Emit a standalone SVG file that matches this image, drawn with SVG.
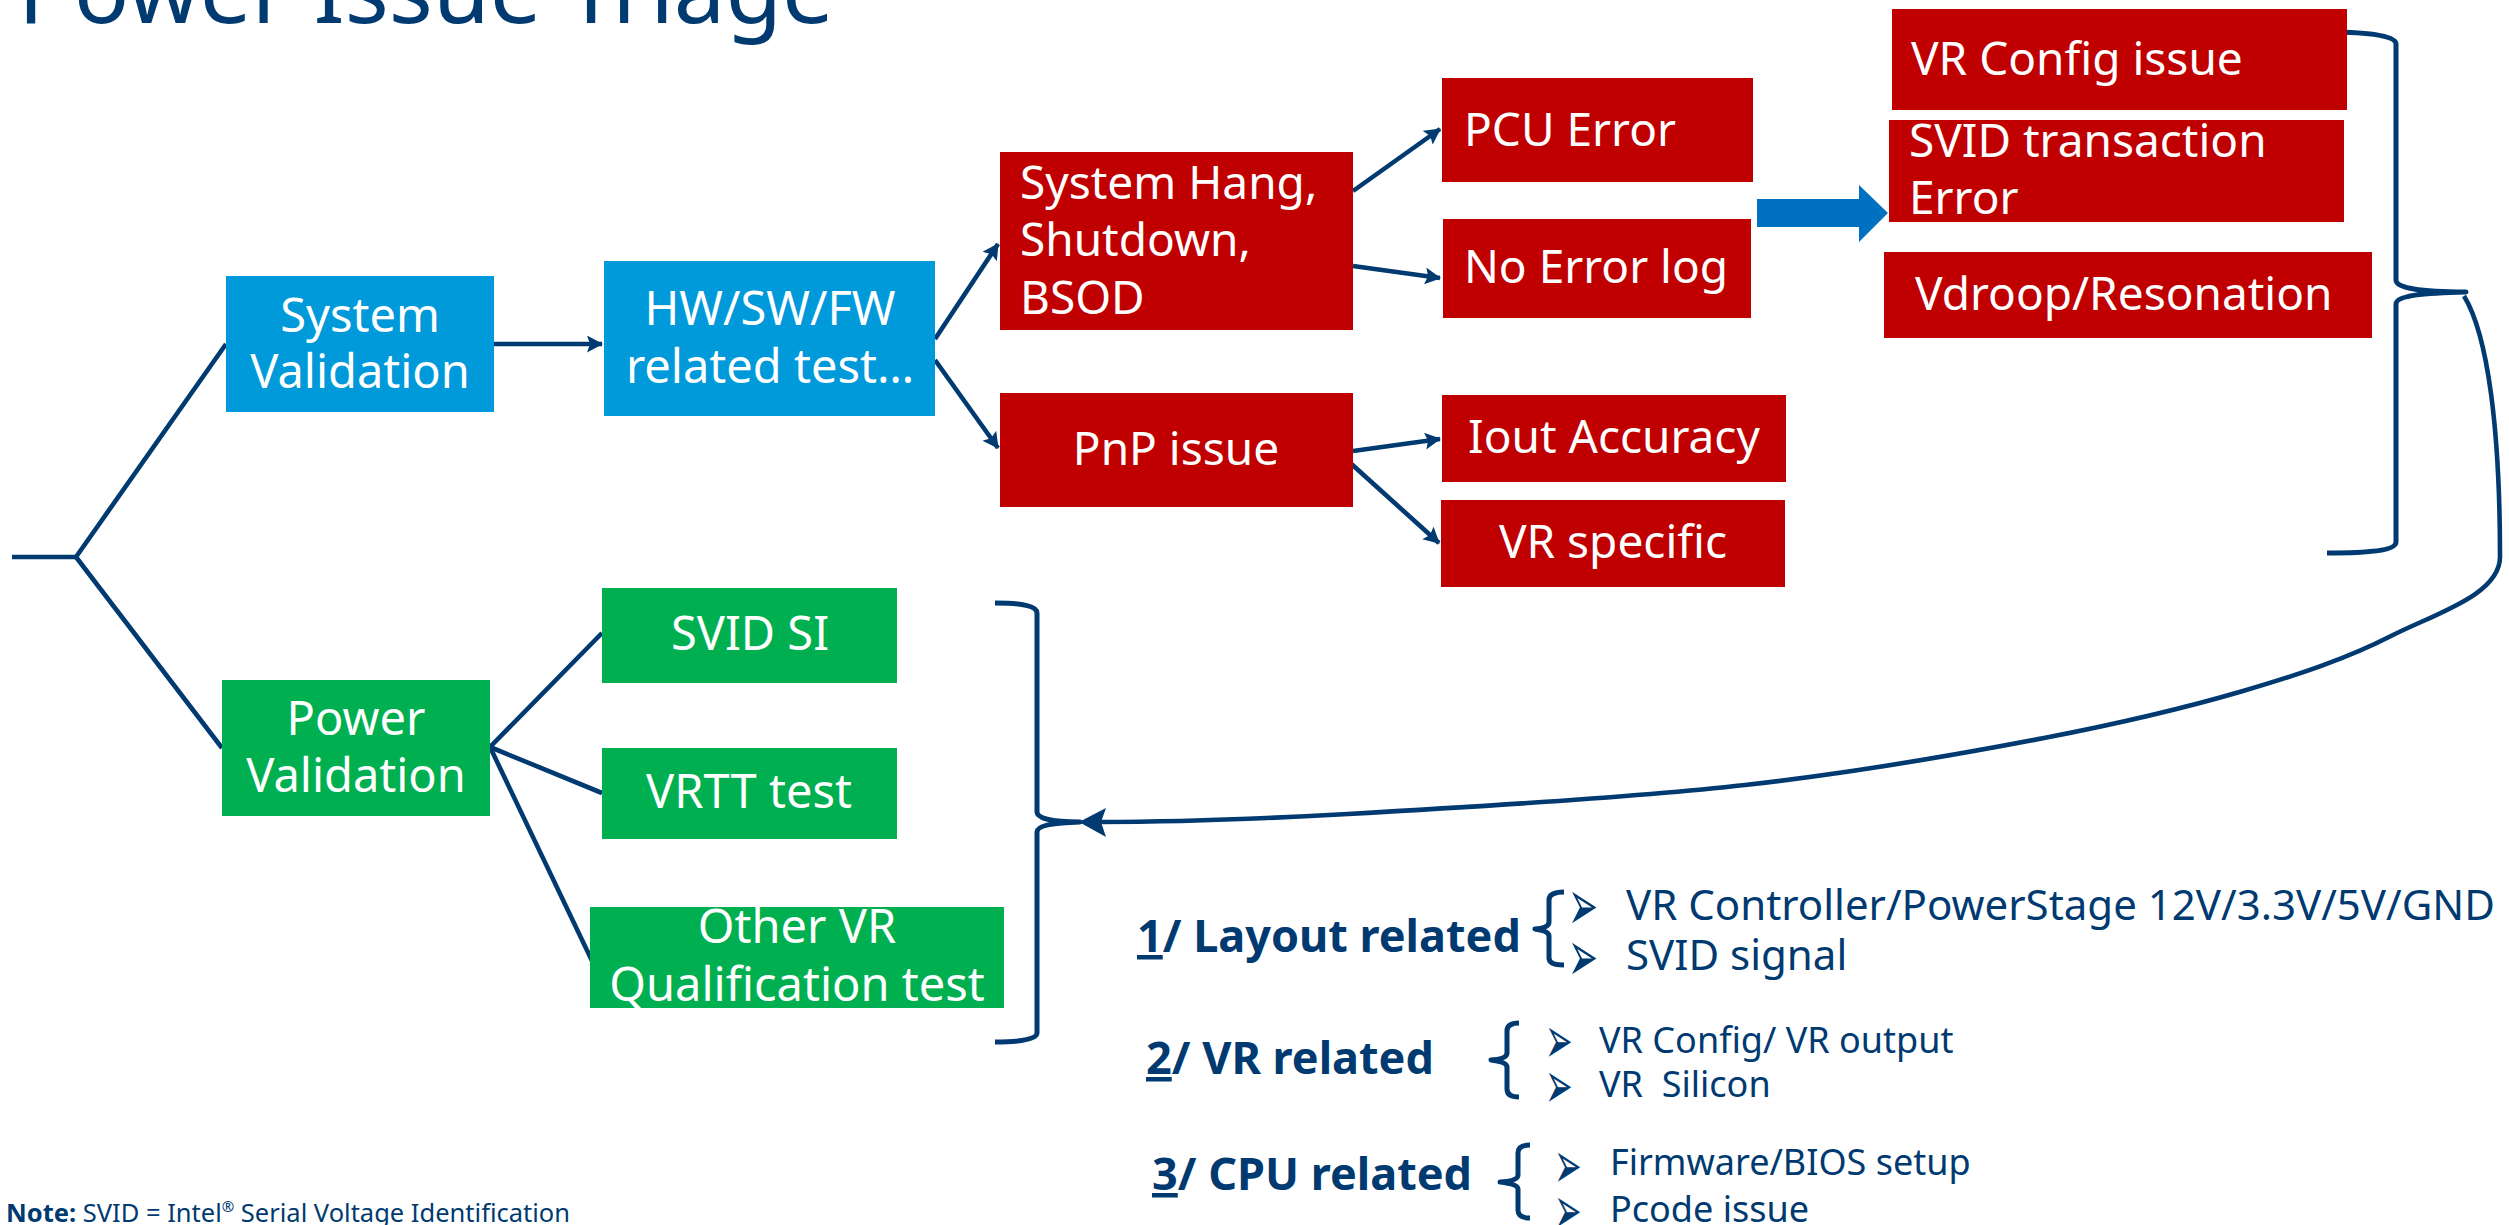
<svg xmlns="http://www.w3.org/2000/svg" width="2509" height="1225" viewBox="0 0 2509 1225">
  <style>
    .box-blue { fill: #0099DA; }
    .box-green { fill: #00B050; }
    .box-red { fill: #C00000; }
    .lbl { font-family: "Noto Sans", "Open Sans", sans-serif; fill: #FFFFFF; }
    .lbl48 { font-size: 47px; }
    .lbl46 { font-size: 46px; }
    .conn { fill: none; stroke: #003A70; stroke-width: 4.6; stroke-linecap: butt; stroke-linejoin: round; }
    .brace { fill: none; stroke: #003A70; stroke-width: 5; stroke-linejoin: round; stroke-linecap: butt; }
    .navy { font-family: "Noto Sans", "Open Sans", sans-serif; fill: #003A70; }
    .head { font-weight: bold; font-size: 45px; }
    .bullet { font-family: "DejaVu Sans", sans-serif; fill: #003A70; }
  </style>
  <defs>
    <marker id="arrow" markerUnits="userSpaceOnUse" markerWidth="17" markerHeight="17" refX="15" refY="8.5" orient="auto">
      <path d="M0,0 L16,8.5 L0,17 L3,8.5 z" fill="#003A70"/>
    </marker>
  </defs>

  <rect width="2509" height="1225" fill="#FFFFFF"/>

  <!-- title -->
  <text id="title" class="navy" x="18" y="23" font-size="92">Power Issue Triage</text>

  <!-- connectors -->
  <g id="connectors">
    <path class="conn" d="M12,557 H76" stroke-width="6"/>
    <path class="conn" d="M226,344 L76,557 L222,748"/>
    <path class="conn" d="M494,344 H602" marker-end="url(#arrow)"/>
    <path class="conn" d="M935,339 L998,244" marker-end="url(#arrow)"/>
    <path class="conn" d="M935,360 L998,448" marker-end="url(#arrow)"/>
    <path class="conn" d="M1353,191 L1440,129" marker-end="url(#arrow)"/>
    <path class="conn" d="M1353,266 L1440,278" marker-end="url(#arrow)"/>
    <path class="conn" d="M1353,451 L1440,439" marker-end="url(#arrow)"/>
    <path class="conn" d="M1347,460 L1439,543" marker-end="url(#arrow)"/>
    <path class="conn" d="M602,633 L490,747 L602,793"/>
    <path class="conn" d="M490,747 L594,965"/>

    <!-- brace grouping the red findings -->
    <path class="brace" d="M2327,32 C2372,32 2396,36 2396,44 V280 C2396,288 2420,292 2466,292 C2420,293 2396,296 2396,304 V542 C2396,550 2372,553 2327,553"/>
    <!-- brace grouping the green tests -->
    <path class="brace" d="M995,603 C1022,603 1037,606 1037,613 V812 C1037,818 1050,822 1080,822 C1050,823 1037,826 1037,832 V1033 C1037,1039 1022,1042 995,1042"/>

    <!-- feedback curve back to power validation -->
    <path class="conn" stroke-width="6" d="M2464,296 C2488,335 2500,430 2500,557 C2500,595 2434,614 2391,636 C2348,658 2301,674 2243,691 C2185,708 2127,722 2044,738 C1961,754 1861,772 1745,785 C1629,798 1455,808 1348,814 C1241,820 1150,822 1100,822"/>
    <path d="M1079,822 L1106,808 L1101,822 L1106,837 z" fill="#003A70"/>

    <!-- block arrow into the VR findings -->
    <path d="M1757,199 H1859 V185 L1888,213 L1859,242 V227 H1757 z" fill="#0070C0"/>
  </g>

  <!-- nodes -->
  <g id="system-validation">
    <rect class="box-blue" x="226" y="276" width="268" height="136"/>
    <text class="lbl lbl48" x="360" y="332" text-anchor="middle">System</text>
    <text class="lbl lbl48" x="360" y="388" text-anchor="middle">Validation</text>
  </g>
  <g id="hw-sw-fw">
    <rect class="box-blue" x="604" y="261" width="331" height="155"/>
    <text class="lbl lbl48" x="770" y="325" text-anchor="middle">HW/SW/FW</text>
    <text class="lbl lbl48" x="770" y="383" text-anchor="middle">related test…</text>
  </g>
  <g id="system-hang">
    <rect class="box-red" x="1000" y="152" width="353" height="178"/>
    <text class="lbl lbl46" x="1020" y="199">System Hang,</text>
    <text class="lbl lbl46" x="1020" y="256">Shutdown,</text>
    <text class="lbl lbl46" x="1020" y="314">BSOD</text>
  </g>
  <g id="pnp-issue">
    <rect class="box-red" x="1000" y="393" width="353" height="114"/>
    <text class="lbl lbl46" x="1176" y="465" text-anchor="middle">PnP issue</text>
  </g>
  <g id="pcu-error">
    <rect class="box-red" x="1442" y="78" width="311" height="104"/>
    <text class="lbl lbl46" x="1464" y="146">PCU Error</text>
  </g>
  <g id="no-error-log">
    <rect class="box-red" x="1443" y="219" width="308" height="99"/>
    <text class="lbl lbl46" x="1596" y="283" text-anchor="middle">No Error log</text>
  </g>
  <g id="iout-accuracy">
    <rect class="box-red" x="1442" y="395" width="344" height="87"/>
    <text class="lbl lbl46" x="1614" y="453" text-anchor="middle">Iout Accuracy</text>
  </g>
  <g id="vr-specific">
    <rect class="box-red" x="1441" y="500" width="344" height="87"/>
    <text class="lbl lbl46" x="1613" y="558" text-anchor="middle">VR specific</text>
  </g>
  <g id="vr-config-issue">
    <rect class="box-red" x="1892" y="9" width="455" height="101"/>
    <text class="lbl lbl46" x="1911" y="75">VR Config issue</text>
  </g>
  <g id="svid-transaction-error">
    <rect class="box-red" x="1889" y="120" width="455" height="102"/>
    <text class="lbl lbl46" x="1909" y="157">SVID transaction</text>
    <text class="lbl lbl46" x="1909" y="214">Error</text>
  </g>
  <g id="vdroop-resonation">
    <rect class="box-red" x="1884" y="252" width="488" height="86"/>
    <text class="lbl lbl46" x="1915" y="310">Vdroop/Resonation</text>
  </g>
  <g id="power-validation">
    <rect class="box-green" x="222" y="680" width="268" height="136"/>
    <text class="lbl lbl48" x="356" y="735" text-anchor="middle">Power</text>
    <text class="lbl lbl48" x="356" y="792" text-anchor="middle">Validation</text>
  </g>
  <g id="svid-si">
    <rect class="box-green" x="602" y="588" width="295" height="95"/>
    <text class="lbl lbl48" x="750" y="650" text-anchor="middle">SVID SI</text>
  </g>
  <g id="vrtt-test">
    <rect class="box-green" x="602" y="748" width="295" height="91"/>
    <text class="lbl lbl48" x="749" y="808" text-anchor="middle">VRTT test</text>
  </g>
  <g id="other-vr-test">
    <rect class="box-green" x="590" y="907" width="414" height="101"/>
    <text class="lbl lbl48" x="797" y="943" text-anchor="middle">Other VR</text>
    <text class="lbl lbl48" x="797" y="1001" text-anchor="middle">Qualification test</text>
  </g>

  <!-- root-cause categories -->
  <g id="layout-related">
    <text class="navy head" x="1137" y="952"><tspan text-decoration="underline">1</tspan>/ Layout related</text>
    <path class="brace" stroke-width="4" d="M1564,892 Q1549,892 1549,900 V922 Q1549,928 1535,929 Q1549,931 1549,936 V958 Q1549,965 1564,965"/>
    <text class="bullet" font-size="36" transform="translate(1568,930) scale(1,2)"><tspan x="0" y="0">➢</tspan><tspan x="0" y="25.5">➢</tspan></text>
    <text class="navy" x="1626" y="920" font-size="42">VR Controller/PowerStage 12V/3.3V/5V/GND</text>
    <text class="navy" x="1626" y="970" font-size="42">SVID signal</text>
  </g>
  <g id="vr-related">
    <text class="navy head" x="1146" y="1074"><tspan text-decoration="underline">2</tspan>/ VR related</text>
    <path class="brace" stroke-width="4" d="M1519,1023 Q1507,1023 1507,1031 V1053 Q1507,1059 1491,1060 Q1507,1062 1507,1067 V1089 Q1507,1097 1519,1097"/>
    <text class="bullet" font-size="33" transform="translate(1545,1063) scale(1,2)"><tspan x="0" y="0">➢</tspan><tspan x="0" y="22.5">➢</tspan></text>
    <text class="navy" x="1599" y="1053" font-size="36">VR Config/ VR output</text>
    <text class="navy" x="1599" y="1097" font-size="36" xml:space="preserve">VR  Silicon</text>
  </g>
  <g id="cpu-related">
    <text class="navy head" x="1152" y="1190"><tspan text-decoration="underline">3</tspan>/ CPU related</text>
    <path class="brace" stroke-width="4" d="M1530,1145 Q1518,1145 1518,1153 V1175 Q1518,1181 1500,1182 Q1518,1184 1518,1189 V1210 Q1518,1218 1530,1218"/>
    <text class="bullet" font-size="33" transform="translate(1554,1188) scale(1,2)"><tspan x="0" y="0">➢</tspan><tspan x="0" y="22.5">➢</tspan></text>
    <text class="navy" x="1610" y="1175" font-size="36">Firmware/BIOS setup</text>
    <text class="navy" x="1610" y="1222" font-size="36">Pcode issue</text>
  </g>

  <!-- footnote -->
  <text id="note" class="navy" x="6" y="1222" font-size="25.5"><tspan font-weight="bold">Note:</tspan> SVID = Intel<tspan font-size="15" dy="-10">®</tspan><tspan dy="10"> Serial Voltage Identification</tspan></text>
</svg>
